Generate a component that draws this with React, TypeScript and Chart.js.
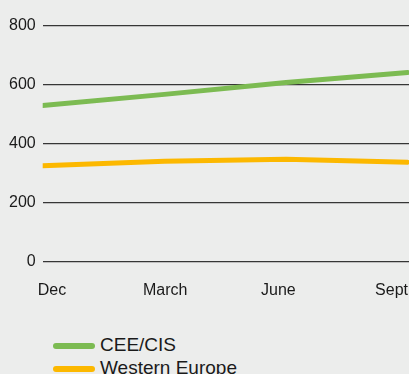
import React, { useEffect, useRef } from "react";
import { Chart, registerables } from "chart.js";

Chart.register(...registerables);

const xLabels = ["Dec", "March", "June", "Sept"];
const seriesNames = ["CEE/CIS", "Western Europe"];
const seriesColors = ["#7cbb52", "#fcb800"];
const ceeValues = [530, 568, 608, 642];
const westernEuropeValues = [326, 341, 348, 338];
const yTicks = [0, 200, 400, 600, 800];

const FONT = "'Liberation Sans', Arial, Helvetica, sans-serif";
const BG = "#ecedec";

export default function App() {
  const ref = useRef<HTMLCanvasElement | null>(null);

  useEffect(() => {
    if (!ref.current) return;
    const toPts = (vals: number[]) => vals.map((v, i) => ({ x: i, y: v }));
    const chart = new Chart(ref.current, {
      type: "line",
      data: {
        datasets: [
          {
            label: seriesNames[0],
            data: toPts(ceeValues),
            borderColor: seriesColors[0],
            backgroundColor: seriesColors[0],
            borderWidth: 5,
            pointRadius: 0,
            borderCapStyle: "round",
            borderJoinStyle: "round",
            tension: 0,
            xAxisID: "x",
          },
          {
            label: seriesNames[1],
            data: toPts(westernEuropeValues),
            borderColor: seriesColors[1],
            backgroundColor: seriesColors[1],
            borderWidth: 5,
            pointRadius: 0,
            borderCapStyle: "round",
            borderJoinStyle: "round",
            tension: 0,
            xAxisID: "x",
          },
        ],
      },
      options: {
        responsive: false,
        animation: false,
        layout: { padding: { left: 2, top: 26, right: 0, bottom: 0 } },
        plugins: { legend: { display: false }, tooltip: { enabled: false } },
        scales: {
          x: {
            type: "linear",
            display: false,
            min: 0,
            max: 3.43,
          },
          xl: {
            type: "linear",
            position: "bottom",
            min: -0.082,
            max: 3.605,
            grid: { display: false, drawTicks: false },
            border: { display: false },
            ticks: {
              stepSize: 1,
              includeBounds: false,
              autoSkip: false,
              maxRotation: 0,
              minRotation: 0,
              padding: 19,
              color: "#1a1a1a",
              font: { family: FONT, size: 16 },
              callback: (v: any) => {
                const i = Number(v);
                return Number.isInteger(i) && xLabels[i] ? xLabels[i] : "";
              },
            },
          },
          y: {
            min: 0,
            max: 800,
            afterBuildTicks: (s: any) => {
              s.ticks = yTicks.map((v) => ({ value: v }));
            },
            grid: { color: "#363636", lineWidth: 1.2, drawTicks: false },
            border: { display: false },
            ticks: {
              padding: 7,
              color: "#1a1a1a",
              font: { family: FONT, size: 16 },
            },
          },
        },
      },
    });
    return () => chart.destroy();
  }, []);

  return (
    <div
      style={{
        position: "fixed",
        left: 0,
        top: 0,
        width: 409,
        height: 374,
        overflow: "hidden",
        background: BG,
        fontFamily: FONT,
      }}
    >
      <canvas ref={ref} width={460} height={319} style={{ position: "absolute", left: 0, top: 0 }} />
      {seriesNames.map((name, i) => (
        <div
          key={name}
          style={{
            position: "absolute",
            left: 0,
            top: 332.9 + i * 23,
            height: 23,
            width: 409,
            lineHeight: "23px",
            fontSize: 19,
            color: "#1a1a1a",
            whiteSpace: "nowrap",
          }}
        >
          <span
            style={{
              position: "absolute",
              left: 53,
              top: 10.3,
              width: 42,
              height: 5.5,
              borderRadius: 3,
              background: seriesColors[i],
            }}
          />
          <span style={{ position: "absolute", left: 100, top: 0 }}>{name}</span>
        </div>
      ))}
    </div>
  );
}
